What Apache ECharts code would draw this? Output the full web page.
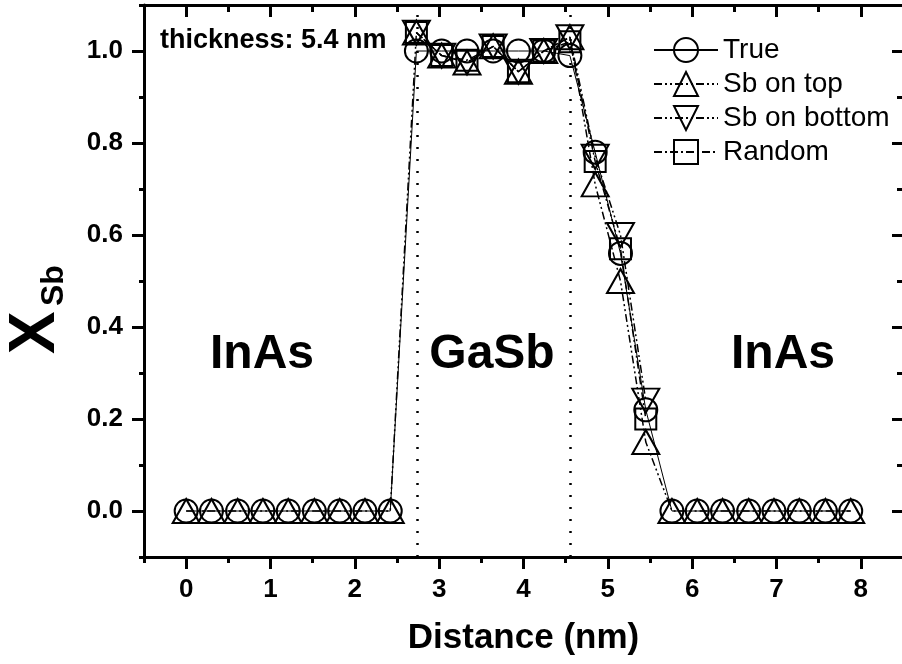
<!DOCTYPE html>
<html>
<head>
<meta charset="utf-8">
<title>Sb profile</title>
<script src="https://cdn.jsdelivr.net/npm/echarts@6/dist/echarts.min.js"></script>
<style>
  html, body { margin: 0; padding: 0; background: #fff; }
  #chart { width: 902px; height: 664px; }
</style>
</head>
<body>
<div id="chart"></div>
<script>
// positions of the monolayers (nm)
var distance = [0, 0.30, 0.61, 0.91, 1.21, 1.52, 1.82, 2.12, 2.42, 2.73, 3.03, 3.33, 3.64, 3.94,
  4.24, 4.55, 4.85, 5.15, 5.45, 5.76, 6.06, 6.36, 6.67, 6.97, 7.27, 7.58, 7.88];

var xsbTrue   = [0, 0, 0, 0, 0, 0, 0, 0, 0, 1.00, 1.00, 1.00, 1.00, 1.00, 1.00, 0.99, 0.78, 0.56, 0.22, 0, 0, 0, 0, 0, 0, 0, 0];
var xsbTop    = [0, 0, 0, 0, 0, 0, 0, 0, 0, 1.04, 0.99, 0.975, 1.01, 0.955, 1.00, 1.03, 0.71, 0.50, 0.15, 0, 0, 0, 0, 0, 0, 0, 0];
var xsbBottom = [null, null, null, null, null, null, null, null, null, 1.04, 0.99, 0.975, 1.01, 0.955, 1.00, 1.03, 0.77, 0.60, 0.24,
  null, null, null, null, null, null, null, null];
var xsbRandom = [null, null, null, null, null, null, null, null, null, 1.04, 0.99, 0.98, 1.01, 0.955, 1.00, 1.02, 0.76, 0.57, 0.20,
  null, null, null, null, null, null, null, null];

var xTicks = [0, 1, 2, 3, 4, 5, 6, 7, 8];
var xMinorTicks = [-0.5, 0.5, 1.5, 2.5, 3.5, 4.5, 5.5, 6.5, 7.5];
var yTicks = [0, 0.2, 0.4, 0.6, 0.8, 1.0];
var yMinorTicks = [-0.1, 0.1, 0.3, 0.5, 0.7, 0.9, 1.1];

// InAs/GaSb interfaces
var interfaces = [2.74, 4.55];

var font = '"Liberation Sans", Arial, Helvetica, sans-serif';

var chart = echarts.init(document.getElementById("chart"));

function points(values) {
  return distance.map(function (d, i) {
    return [d, values[i]];
  });
}

function makeSeries(name, values, symbol, size, lineType, lineWidth) {
  return {
    name: name,
    type: "line",
    data: points(values),
    symbol: symbol,
    symbolSize: size,
    connectNulls: false,
    itemStyle: { color: "rgba(0,0,0,0)", borderColor: "#000", borderWidth: 2 },
    lineStyle: { color: "#000", width: lineWidth, type: lineType },
    emphasis: { disabled: true }
  };
}

function xAxisOf(position, ticks, length, inside, showLine, showLabel) {
  return {
    type: "value",
    position: position,
    min: -0.5,
    max: 8.5,
    splitLine: { show: false },
    axisLine: { show: showLine, onZero: false, lineStyle: { color: "#000", width: 3 } },
    axisTick: { show: true, inside: inside, customValues: ticks, length: length, lineStyle: { color: "#000", width: 3 } },
    axisLabel: {
      show: showLabel, customValues: ticks, margin: 20,
      color: "#000", fontSize: 26, fontWeight: "bold", fontFamily: font
    }
  };
}

function yAxisOf(position, ticks, length, inside, showLine, showLabel) {
  return {
    type: "value",
    position: position,
    min: -0.1,
    max: 1.1,
    splitLine: { show: false },
    axisLine: { show: showLine, onZero: false, lineStyle: { color: "#000", width: 3 } },
    axisTick: { show: true, inside: inside, customValues: ticks, length: length, lineStyle: { color: "#000", width: 3 } },
    axisLabel: {
      show: showLabel, customValues: ticks, margin: 21,
      color: "#000", fontSize: 26, fontWeight: "bold", fontFamily: font,
      formatter: function (v) { return v.toFixed(1); }
    }
  };
}

var bottomAxis = xAxisOf("bottom", xTicks, 12, false, true, true);
bottomAxis.name = "Distance (nm)";
bottomAxis.nameLocation = "middle";
bottomAxis.nameGap = 64;
bottomAxis.nameTextStyle = { color: "#000", fontSize: 35, fontWeight: "bold", fontFamily: font };

var trueSeries = makeSeries("True", xsbTrue, "circle", 23, "solid", 1);
// dotted lines at the interfaces
trueSeries.markLine = {
  silent: true,
  symbol: "none",
  label: { show: false },
  lineStyle: { color: "#000", type: [2, 10], width: 2.5 },
  data: interfaces.map(function (x) { return { xAxis: x }; })
};

chart.setOption({
  animation: false,
  backgroundColor: "#fff",
  grid: { left: 144, right: -1, top: 5, bottom: 107, outerBoundsMode: "none" },
  xAxis: [
    bottomAxis,
    xAxisOf("bottom", xMinorTicks, 6, false, false, false),
    xAxisOf("top", xTicks, 12, true, true, false),
    xAxisOf("top", xMinorTicks, 7, true, false, false)
  ],
  yAxis: [
    yAxisOf("left", yTicks, 12, false, true, true),
    yAxisOf("left", yMinorTicks, 5, false, false, false),
    yAxisOf("right", yTicks, 11, true, true, false),
    yAxisOf("right", yMinorTicks, 6, true, false, false)
  ],
  legend: {
    orient: "vertical",
    left: 648,
    top: 30,
    itemWidth: 64,
    itemHeight: 30,
    itemGap: 4,
    selectedMode: false,
    textStyle: { color: "#000", fontSize: 28, fontFamily: font, lineHeight: 30 },
    data: ["True", "Sb on top", "Sb on bottom", "Random"]
  },
  graphic: [
    {
      type: "text", x: 160, y: 41,
      style: { text: "thickness: 5.4 nm", fill: "#000", font: "bold 27px " + font,
        textVerticalAlign: "middle", verticalAlign: "middle" }
    },
    {
      type: "text", x: 262, y: 355,
      style: { text: "InAs", fill: "#000", font: "bold 48px " + font,
        textAlign: "center", align: "center", textVerticalAlign: "middle", verticalAlign: "middle" }
    },
    {
      type: "text", x: 492, y: 355,
      style: { text: "GaSb", fill: "#000", font: "bold 48px " + font,
        textAlign: "center", align: "center", textVerticalAlign: "middle", verticalAlign: "middle" }
    },
    {
      type: "text", x: 783, y: 355,
      style: { text: "InAs", fill: "#000", font: "bold 48px " + font,
        textAlign: "center", align: "center", textVerticalAlign: "middle", verticalAlign: "middle" }
    },
    {
      // y axis title X_Sb, rotated
      type: "group", x: 36, y: 354, rotation: Math.PI / 2,
      children: [
        {
          type: "text",
          style: { text: "X", x: 0, y: 0, fill: "#000", font: "bold 64px " + font,
            textVerticalAlign: "middle", verticalAlign: "middle" }
        },
        {
          type: "text",
          style: { text: "Sb", x: 48, y: 18, fill: "#000", font: "bold 32px " + font,
            textVerticalAlign: "middle", verticalAlign: "middle" }
        }
      ]
    }
  ],
  series: [
    trueSeries,
    makeSeries("Sb on top", xsbTop, "triangle", [27, 24], [8, 3, 2, 3, 2, 3], 1.5),
    makeSeries("Sb on bottom", xsbBottom, "path://M0,0L2,0L1,2Z", [27, 24], [8, 3, 2, 3, 2, 3], 1.5),
    makeSeries("Random", xsbRandom, "rect", 21, [8, 3, 2, 3], 1.5)
  ]
});

window.addEventListener("resize", function () {
  chart.resize();
});
</script>
</body>
</html>
